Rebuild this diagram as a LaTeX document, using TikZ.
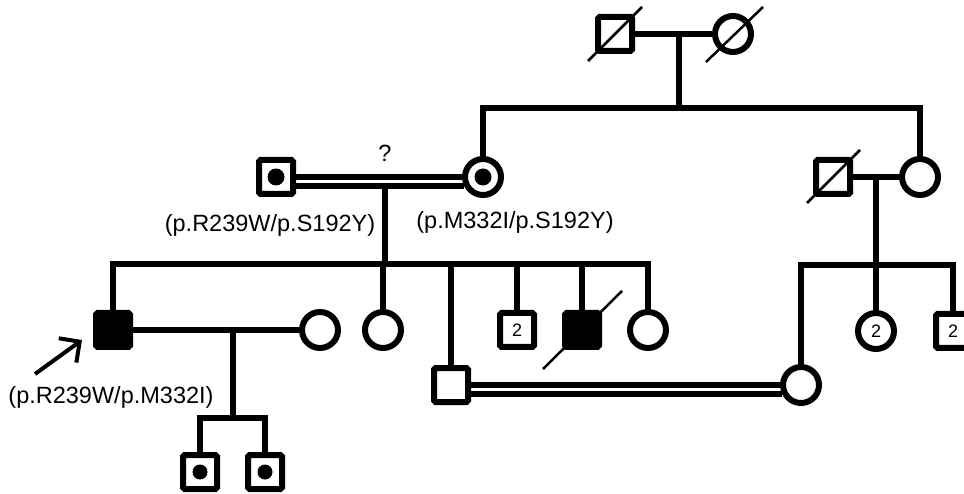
\documentclass[tikz,border=0pt]{standalone}
\usepackage{fontspec}
\setmainfont{Liberation Sans}
\usetikzlibrary{arrows.meta}
\begin{document}
\begin{tikzpicture}[x=1pt,y=-1pt,
  sq/.style={draw, rectangle, minimum size=34pt, line width=6pt, inner sep=0pt, rounded corners=1.5pt, font=\fontsize{18}{20}\selectfont},
  ci/.style={draw, circle, minimum size=36pt, line width=6pt, inner sep=0pt, font=\fontsize{18}{20}\selectfont},
  aff/.style={fill=black},
  ln/.style={line width=5.5pt},
  slash/.style={line width=2.5pt},
  lab/.style={anchor=base, inner sep=0pt, font=\fontsize{23.5}{26}\selectfont},
  dotr/.style={fill=black}
]
\useasboundingbox (0,0) rectangle (964,494);

% generation I
\node[sq] (gf) at (615,34) {};
\node[ci] (gm) at (733,34) {};
\draw[slash] ([shift={(-27,27)}]gf.center) -- ([shift={(27,-27)}]gf.center);
\draw[slash] ([shift={(-27,28)}]gm.center) -- ([shift={(30,-27)}]gm.center);
\draw[ln] (gf.east) -- (gm.west);
\coordinate (g1d) at (679,34);
\coordinate (g1s) at (679,108);
\draw[ln] (g1d) -- (g1s);

% generation II
\node[sq] (f2) at (276,177) {};
\node[ci] (m2) at (483,177) {};
\fill[dotr] (f2.center) circle (8.5pt);
\fill[dotr] (m2.center) circle (8.5pt);
\node[sq] (uf) at (833,177) {};
\node[ci] (ua) at (920,177) {};
\draw[slash] ([shift={(-26,26)}]uf.center) -- ([shift={(27,-27)}]uf.center);

\draw[ln] (m2.north) -- (m2.north |- g1s) -- (ua.north |- g1s) -- (ua.north);

\draw[ln] (f2.east) -- (m2.west);
\draw[ln] (f2.east |- m2.205) -- (m2.205);
\node[lab] (q) at (385,162) {?};
\coordinate (d2a) at (385,186);
\coordinate (s2) at (385,264);
\draw[ln] (d2a) -- (s2);

\draw[ln] (uf.east) -- (ua.west);
\coordinate (d4) at (876,177);
\coordinate (s4) at (876,265);
\draw[ln] (d4) -- (s4);

\node[lab] (l1) at (270,232) {(p.R239W/p.S192Y)};
\node[lab] (l2) at (515,229) {(p.M332I/p.S192Y)};

% generation III
\node[sq,aff] (p) at (113,330) {};
\node[ci] (pw) at (320,330) {};
\node[ci] (c1) at (383,330) {};
\node[sq] (c2) at (451,385) {};
\node[sq] (c3) at (517,330) {2};
\node[sq,aff] (c4) at (582,330) {};
\node[ci] (c5) at (648,330) {};
\draw[slash] ([shift={(-39,39)}]c4.center) -- ([shift={(40,-39)}]c4.center);

\draw[ln] (p.north) |- (s2) -| (c5.north);
\draw[ln] (c1.north) -- (c1.north |- s2);
\draw[ln] (c2.north) -- (c2.north |- s2);
\draw[ln] (c3.north) -- (c3.north |- s2);
\draw[ln] (c4.north) -- (c4.north |- s2);

\node[ci] (e1) at (801,385) {};
\node[ci] (e2) at (876,331) {2};
\node[sq] (e3) at (953,331) {2};
\draw[ln] (e1.north) |- (s4) -| (e3.north);
\draw[ln] (e2.north) -- (e2.north |- s4);

\draw[ln] (c2.east) -- (e1.west);
\draw[ln] (c2.east |- e1.205) -- (e1.205);

\draw[ln] (p.east) -- (pw.west);
\coordinate (d3) at (233,330);
\coordinate (s3) at (233,418);
\draw[ln] (d3) -- (s3);

\node[lab] (l3) at (111,403) {(p.R239W/p.M332I)};
\coordinate (arT) at (35,374);
\coordinate (arH) at (82,340);
\draw[line width=4pt, -{Straight Barb[length=15pt,width=30pt,line width=4pt]}] (arT) -- (arH);

% generation IV
\node[sq] (k1) at (200,472) {};
\node[sq] (k2) at (265,472) {};
\fill[dotr] (k1.center) circle (7.5pt);
\fill[dotr] (k2.center) circle (7.5pt);
\draw[ln] (k1.north) |- (s3) -| (k2.north);
\end{tikzpicture}
\end{document}
